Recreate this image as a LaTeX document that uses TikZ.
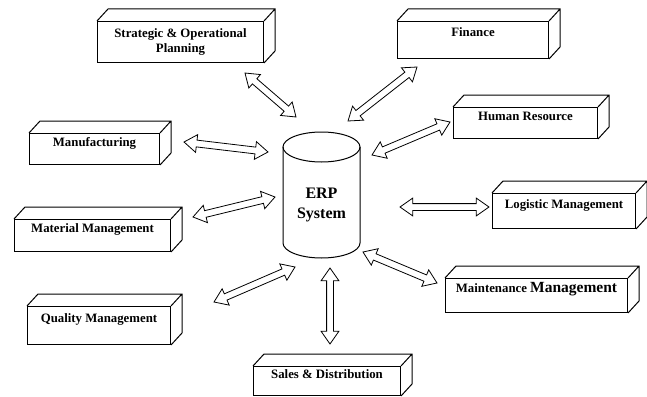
\documentclass[tikz,border=0pt]{standalone}
\usepackage{fontspec}
\setmainfont{Liberation Serif}
\usetikzlibrary{shapes,arrows,calc}

% side and top faces of a box node
\newcommand{\prism}[1]{%
  \draw[line width=1pt] (#1.north west) -- ++(11pt,12pt) -- ($(#1.north east)+(11pt,12pt)$)
    -- ($(#1.south east)+(11pt,12pt)$) -- (#1.south east)
    (#1.north east) -- ++(11pt,12pt);}

% hollow two-way arrow between two named points
\newcommand{\twoway}[3]{%
  \path let \p1=($(#3)-(#2)$), \n1={atan2(\y1,\x1)}, \n2={veclen(\x1,\y1)} in
    node[fat, minimum height=\n2, rotate=\n1] (#1) at ($(#2)!0.5!(#3)$) {};}

\begin{document}
\begin{tikzpicture}[x=1pt,y=-1pt]

\tikzstyle{erpbox} = [draw, line width=1pt, anchor=north west, inner sep=2pt,
    font=\fontsize{12.8}{15}\selectfont\bfseries, align=center, fill=white]
\tikzstyle{uptext} = [text height=9pt, text depth=15pt]
\tikzstyle{fat} = [double arrow, draw, line width=0.8pt, fill=white,
    inner xsep=0pt, inner ysep=3pt, minimum width=17pt,
    double arrow head extend=5.5pt, double arrow tip angle=70]

\useasboundingbox (0,0) rectangle (647,396);

% =========================
% the ERP cylinder
% =========================
\draw[line width=1pt] (283,147) -- (283,243)
    arc[start angle=180, end angle=360, x radius=38.5pt, y radius=15pt] -- (360,147);
\draw[line width=1pt] (321.5,147) ellipse [x radius=38.5pt, y radius=15pt];
\node[font=\fontsize{16}{20}\selectfont\bfseries, align=center] (erp) at (321.5,205) {ERP\\System};

% =========================
% modules - left side
% =========================
\node[erpbox, minimum width=166, minimum height=41] (plan) at (97,21) {Strategic \& Operational\\Planning};
\prism{plan}

\node[erpbox, uptext, minimum width=130, minimum height=31] (mfg) at (29,133) {Manufacturing};
\prism{mfg}

\node[erpbox, uptext, minimum width=156, minimum height=32] (mat) at (14,219) {Material Management};
\prism{mat}

\node[erpbox, uptext, minimum width=143, minimum height=38] (qual) at (27,306) {Quality Management};
\prism{qual}

\node[erpbox, uptext, minimum width=147, minimum height=29] (sales) at (253,366) {Sales \& Distribution};
\prism{sales}

% =========================
% modules - right side
% =========================
\node[erpbox, uptext, minimum width=151, minimum height=37] (fin) at (397,21) {Finance};
\prism{fin}

\node[erpbox, uptext, minimum width=144, minimum height=31] (hr) at (453,107) {Human Resource};
\prism{hr}

\node[erpbox, uptext, minimum width=143, minimum height=35] (log) at (492,193) {Logistic Management};
\prism{log}

\node[erpbox, uptext, minimum width=182, minimum height=34] (maint) at (445,278)
    {Maintenance {\fontsize{15.5}{17}\selectfont Management}};
\prism{maint}

% =========================
% two-way arrows
% =========================
\coordinate (plan-end) at (245,73);   \coordinate (erp-plan) at (296,117);
\coordinate (fin-end) at (417,67);    \coordinate (erp-fin) at (348,121);
\coordinate (mfg-end) at (184,142);   \coordinate (erp-mfg) at (268,152);
\coordinate (hr-end) at (450,122);    \coordinate (erp-hr) at (372,155);
\coordinate (mat-end) at (193,217);   \coordinate (erp-mat) at (275,197);
\coordinate (log-end) at (489,207);   \coordinate (erp-log) at (400,207);
\coordinate (maint-end) at (437,283); \coordinate (erp-maint) at (363,252);
\coordinate (qual-end) at (214,302);  \coordinate (erp-qual) at (295,267);
\coordinate (sales-end) at (330,344); \coordinate (erp-sales) at (330,268);

\twoway{planlink}{plan-end}{erp-plan}
\twoway{finlink}{fin-end}{erp-fin}
\twoway{mfglink}{mfg-end}{erp-mfg}
\twoway{hrlink}{hr-end}{erp-hr}
\twoway{matlink}{mat-end}{erp-mat}
\twoway{loglink}{log-end}{erp-log}
\twoway{maintlink}{maint-end}{erp-maint}
\twoway{quallink}{qual-end}{erp-qual}
\twoway{saleslink}{sales-end}{erp-sales}

\end{tikzpicture}
\end{document}
